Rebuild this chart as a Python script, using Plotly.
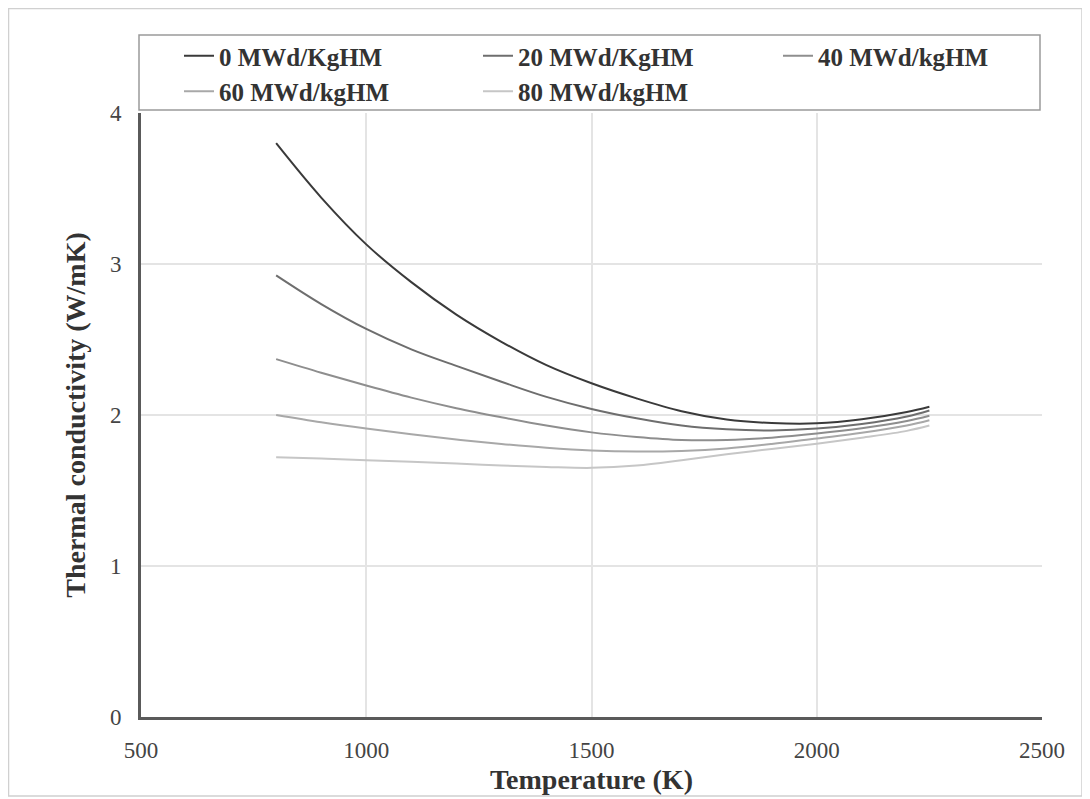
import plotly.graph_objects as go

temperature = [800, 900, 1000, 1100, 1200, 1300, 1400, 1500, 1600, 1700, 1800, 1900, 2000, 2100, 2200, 2250]

k_0 = [3.80, 3.44, 3.13, 2.88, 2.665, 2.485, 2.33, 2.21, 2.11, 2.025, 1.97, 1.947, 1.945, 1.972, 2.02, 2.055]
k_20 = [2.925, 2.735, 2.57, 2.435, 2.325, 2.22, 2.12, 2.04, 1.978, 1.93, 1.905, 1.898, 1.91, 1.94, 1.99, 2.03]
k_40 = [2.37, 2.28, 2.195, 2.115, 2.045, 1.985, 1.93, 1.885, 1.855, 1.835, 1.835, 1.85, 1.877, 1.912, 1.96, 1.995]
k_60 = [2.00, 1.952, 1.91, 1.872, 1.838, 1.808, 1.783, 1.765, 1.758, 1.762, 1.778, 1.808, 1.845, 1.882, 1.93, 1.965]
k_80 = [1.72, 1.712, 1.70, 1.69, 1.678, 1.666, 1.656, 1.65, 1.665, 1.70, 1.74, 1.775, 1.81, 1.85, 1.895, 1.93]

series_names = ["0 MWd/KgHM", "20 MWd/KgHM", "40 MWd/kgHM", "60 MWd/kgHM", "80 MWd/kgHM"]
series_values = [k_0, k_20, k_40, k_60, k_80]
series_colors = ["#3a3a3a", "#6e6e6e", "#8e8e8e", "#a8a8a8", "#c6c6c6"]
series_legend = ["legend", "legend2", "legend3", "legend", "legend2"]

x_ticks = [500, 1000, 1500, 2000, 2500]
y_ticks = [0, 1, 2, 3, 4]

FONT = "Liberation Serif"

fig = go.Figure()
for name, vals, col, lg in zip(series_names, series_values, series_colors, series_legend):
    fig.add_trace(go.Scatter(
        x=temperature, y=vals, name=name, mode="lines",
        line=dict(color=col, width=2, shape="spline", smoothing=1.0),
        legend=lg,
    ))

# page body has an 8px margin: figure is offset by 8px
OFF = 8
W, H = 1082, 791
L, R, T, B = 141 - OFF, 1090 - 1042, 113 - OFF, OFF + H - 717
pw, ph = W - L - R, H - T - B

def px_x(p):
    return (p - OFF - L) / pw

def px_y(p):
    return (OFF + H - B - p) / ph

legend_common = dict(
    orientation="v", xanchor="left", yanchor="top",
    bgcolor="rgba(0,0,0,0)", borderwidth=0,
    font=dict(family=FONT, size=25, color="#333333", weight="bold"),
    itemwidth=30,
)

fig.update_layout(
    width=W, height=H,
    margin=dict(l=L, r=R, t=T, b=B, autoexpand=False),
    paper_bgcolor="white", plot_bgcolor="white",
    font=dict(family=FONT, color="#444444"),
    showlegend=True,
    legend=dict(x=px_x(179), y=px_y(33), **legend_common),
    legend2=dict(x=px_x(478), y=px_y(33), **legend_common),
    legend3=dict(x=px_x(778), y=px_y(33), **legend_common),
    xaxis=dict(
        range=[500, 2500], tickvals=x_ticks, ticktext=[str(v) for v in x_ticks],
        showgrid=True, gridcolor="#e4e4e4", gridwidth=1.5,
        showline=True, linecolor="#5a5a5a", linewidth=3,
        zeroline=False, ticks="", ticklabelstandoff=10, automargin=False,
        tickfont=dict(family=FONT, size=23, color="#444444"),
        title=dict(text="Temperature (K)", standoff=8,
                   font=dict(family=FONT, size=28, color="#333333", weight="bold")),
    ),
    yaxis=dict(
        range=[0, 4], tickvals=y_ticks, ticktext=[str(v) for v in y_ticks],
        showgrid=True, gridcolor="#e4e4e4", gridwidth=1.5,
        showline=True, linecolor="#5a5a5a", linewidth=3,
        zeroline=False, ticks="", ticklabelstandoff=12, automargin=False,
        tickfont=dict(family=FONT, size=23, color="#444444"),
        title=dict(text="Thermal conductivity (W/mK)", standoff=17,
                   font=dict(family=FONT, size=28, color="#333333", weight="bold")),
    ),
    shapes=[
        dict(type="rect", xref="paper", yref="paper",
             x0=px_x(139), x1=px_x(1040), y0=px_y(110), y1=px_y(35),
             line=dict(color="#9a9a9a", width=1.5), fillcolor="rgba(0,0,0,0)", layer="below"),
        dict(type="rect", xref="paper", yref="paper",
             x0=px_x(8.5), x1=px_x(1082), y0=px_y(796), y1=px_y(8.5),
             line=dict(color="#d0d0d0", width=1.5), fillcolor="rgba(0,0,0,0)", layer="below"),
    ],
)

fig.write_html("out.html")
